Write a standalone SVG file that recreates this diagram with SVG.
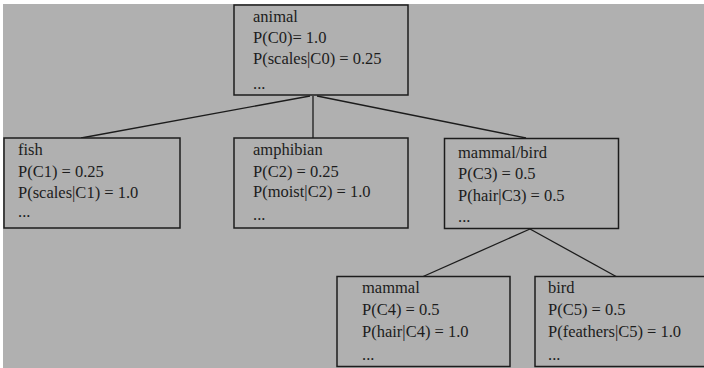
<svg xmlns="http://www.w3.org/2000/svg" width="704" height="368" viewBox="0 0 704 368">
<style>
.box{fill:#b0b0b0;stroke:#1c1c1c;stroke-width:1.5}
.t{font-family:"Liberation Serif","Times New Roman",serif;font-size:16.5px;fill:#1c1c1c}
.c{stroke:#1c1c1c;stroke-width:1.3;fill:none}
</style>
<rect x="0" y="0" width="704" height="368" fill="#ffffff"/>
<rect x="3" y="4" width="701" height="364" fill="#b0b0b0"/>
<g id="connectors">
<line class="c" x1="310" y1="96" x2="81" y2="138"/>
<line class="c" x1="313" y1="96" x2="313" y2="138"/>
<line class="c" x1="317" y1="96" x2="526" y2="138"/>
<line class="c" x1="530" y1="229" x2="422" y2="277"/>
<line class="c" x1="530" y1="229" x2="617" y2="277"/>
</g>
<g id="animal">
<rect class="box" x="234" y="5" width="174" height="90"/>
<text class="t" x="253" y="22">animal</text>
<text class="t" x="253" y="43">P(C0)= 1.0</text>
<text class="t" x="253" y="64">P(scales|C0) = 0.25</text>
<text class="t" x="253" y="89">...</text>
</g>
<g id="fish">
<rect class="box" x="4" y="138" width="176" height="90"/>
<text class="t" x="18" y="155">fish</text>
<text class="t" x="18" y="177">P(C1) = 0.25</text>
<text class="t" x="18" y="198">P(scales|C1) = 1.0</text>
<text class="t" x="18" y="217">...</text>
</g>
<g id="amphibian">
<rect class="box" x="234" y="138" width="174" height="90"/>
<text class="t" x="253" y="155">amphibian</text>
<text class="t" x="253" y="177">P(C2) = 0.25</text>
<text class="t" x="253" y="197">P(moist|C2) = 1.0</text>
<text class="t" x="253" y="220">...</text>
</g>
<g id="mammal_bird">
<rect class="box" x="444.5" y="138.5" width="174" height="90"/>
<text class="t" x="458" y="158">mammal/bird</text>
<text class="t" x="458" y="179">P(C3) = 0.5</text>
<text class="t" x="458" y="201">P(hair|C3) = 0.5</text>
<text class="t" x="458" y="222">...</text>
</g>
<g id="mammal">
<rect class="box" x="337" y="276.5" width="173" height="90"/>
<text class="t" x="362" y="293">mammal</text>
<text class="t" x="362" y="315">P(C4) = 0.5</text>
<text class="t" x="362" y="337">P(hair|C4) = 1.0</text>
<text class="t" x="362" y="360">...</text>
</g>
<g id="bird">
<rect class="box" x="535" y="276.5" width="175" height="90"/>
<text class="t" x="548" y="293">bird</text>
<text class="t" x="548" y="315">P(C5) = 0.5</text>
<text class="t" x="548" y="337">P(feathers|C5) = 1.0</text>
<text class="t" x="548" y="360">...</text>
</g>
</svg>
